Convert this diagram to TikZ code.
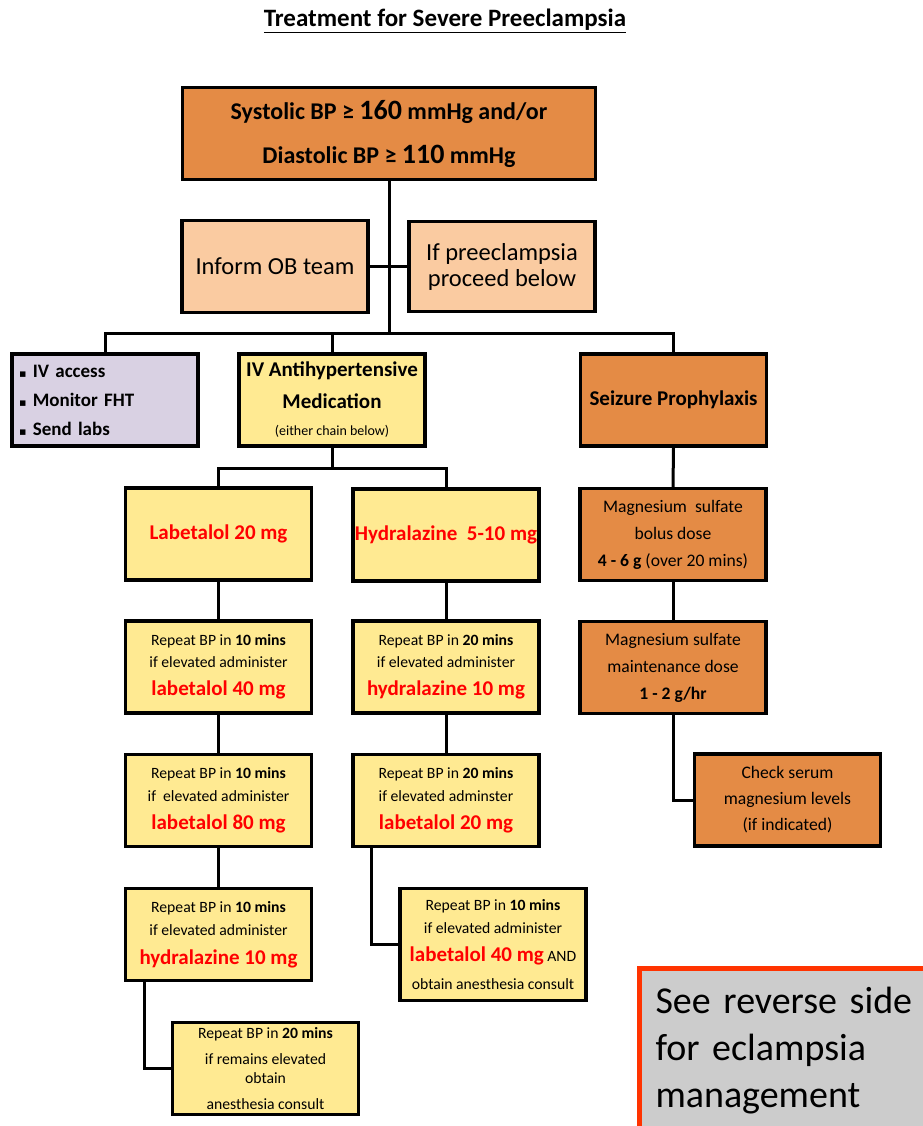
\documentclass[tikz,border=0pt]{standalone}
\usepackage{fontspec}
\setmainfont{Carlito}
\newfontfamily\symfont{DejaVu Sans}
\usepackage{tikz}
\usepackage{xcolor}

\definecolor{orBox}{RGB}{228,139,69}
\definecolor{peachBox}{RGB}{250,203,161}
\definecolor{lavBox}{RGB}{217,209,227}
\definecolor{yelBox}{RGB}{255,234,146}
\definecolor{noteGray}{RGB}{204,204,204}
\definecolor{noteRed}{RGB}{255,51,0}
\definecolor{drugRed}{RGB}{255,0,0}

\newcommand\fsz[2]{\fontsize{#1}{#2}\selectfont}
\newcommand\drug[1]{{\fsz{21}{22}\bfseries\color{drugRed}#1}}
\newcommand\bigdrug[1]{{\fsz{21}{22}\bfseries\color{drugRed}#1}}
\newcommand\blt{{\symfont\fsz{11}{12}▪}}

\tikzset{
  box/.style={draw, line width=3.2pt, inner sep=2pt, align=center, minimum width=186, minimum height=92},
  orbox/.style={box, fill=orBox},
  peachbox/.style={box, fill=peachBox, font=\fsz{24.5}{26}},
  lavbox/.style={box, fill=lavBox},
  yelbox/.style={box, fill=yelBox},
  notebox/.style={draw=noteRed, fill=noteGray, line width=5pt, text width=300, align=left, inner xsep=16, inner ysep=19, font=\fsz{38}{47}},
  link/.style={line width=3pt}
}

\begin{document}
\begin{tikzpicture}[x=1pt,y=-1pt]
\useasboundingbox (0,0) rectangle (922,1126);

\node (title) at (445,21) {\fsz{25}{26}\bfseries\underline{Treatment for Severe Preeclampsia}};

\node[orbox, minimum width=413, minimum height=92, font=\fsz{24}{44}\bfseries] (crit) at (389,133.5)
  {Systolic BP ≥ {\fsz{28}{44}160} mmHg and/or\\ Diastolic BP ≥ {\fsz{28}{44}110} mmHg};
\node[peachbox] (inform) at (275,266.5) {Inform OB team};
\node[peachbox, minimum height=90] (ifpre) at (502,266.5) {If preeclampsia\\ proceed below};

\node[lavbox, text width=172, align=left, font=\fsz{19}{29}\bfseries] (lav) at (105,400)
  {\blt\ IV access\\ \blt\ Monitor FHT\\ \blt\ Send labs};
\node[yelbox, font=\fsz{21}{32}\bfseries] (ivmed) at (332,400)
  {IV Antihypertensive\\ Medication\\[-5pt] {\fsz{14}{13}\mdseries (either chain below)}};
\node[orbox, font=\fsz{21}{20}\bfseries] (seiz) at (673.5,400) {Seizure Prophylaxis};

% labetalol chain
\node[yelbox] (lab1) at (218.5,534) {\drug{Labetalol 20 mg}};
\node[yelbox, font=\fsz{15.7}{22}] (lab2) at (218.5,667)
  {Repeat BP in \textbf{10 mins}\\ if elevated administer\\[6pt] \bigdrug{labetalol 40 mg}};
\node[yelbox, font=\fsz{15.7}{23}] (lab3) at (218.5,800.5)
  {Repeat BP in \textbf{10 mins}\\ if~~elevated administer\\[5pt] \bigdrug{labetalol 80 mg}};
\node[yelbox, font=\fsz{15.7}{23}] (lab4) at (218.5,934.5)
  {Repeat BP in \textbf{10 mins}\\ if elevated administer\\[6pt] \bigdrug{hydralazine 10 mg}};
\node[yelbox, font=\fsz{15.7}{19}] (lab5) at (265.5,1068.5)
  {Repeat BP in \textbf{20 mins}\\[7pt] if remains elevated\\ obtain\\[7pt] anesthesia consult};

% hydralazine chain
\node[yelbox, inner xsep=0pt] (hyd1) at (446,535) {\drug{Hydralazine~~5-10 mg}};
\node[yelbox, font=\fsz{15.7}{22}] (hyd2) at (446,667)
  {Repeat BP in \textbf{20 mins}\\ if elevated administer\\[6pt] \bigdrug{hydralazine 10 mg}};
\node[yelbox, font=\fsz{15.7}{23}] (hyd3) at (446,800.5)
  {Repeat BP in \textbf{20 mins}\\ if elevated adminster\\[5pt] \bigdrug{labetalol 20 mg}};
\node[yelbox, minimum height=112, font=\fsz{15.7}{23}] (hyd4) at (493,944.5)
  {Repeat BP in \textbf{10 mins}\\ if elevated administer\\[5pt] \bigdrug{labetalol 40 mg} AND\\[5pt] obtain anesthesia consult};

% magnesium chain
\node[orbox, font=\fsz{17.6}{27}] (mg1) at (673,534.5)
  {Magnesium~~sulfate\\ bolus dose\\ \textbf{4 - 6 g} (over 20 mins)};
\node[orbox, font=\fsz{17.6}{27}] (mg2) at (673,667.5)
  {Magnesium sulfate\\ maintenance dose\\ \textbf{1 - 2 g/hr}};
\node[orbox, font=\fsz{17.6}{26}] (mgchk) at (787.5,800)
  {Check serum\\ magnesium levels\\ (if indicated)};

\node[notebox, anchor=north west] (note) at (637,966) {See reverse side\\ for eclampsia\\ management};

\coordinate (bus) at (389,333);
\coordinate (fork) at (332,468);
\draw[link] (crit.south) -- (bus);
\draw[link] (inform.east) -- (ifpre.west);
\draw[link] (lav.north) |- (bus) -| (seiz.north);
\draw[link] (ivmed.north) -- (ivmed.north |- bus);
\draw[link] (ivmed.south) -- (fork);
\draw[link] (lab1.north) |- (fork) -| (hyd1.north);
\foreach \u/\v in {lab1/lab2,lab2/lab3,lab3/lab4,hyd1/hyd2,hyd2/hyd3,seiz/mg1,mg1/mg2}
  \draw[link] (\u.south) -- (\v.north);
\draw[link] ([xshift=-75pt]hyd3.south) |- (hyd4.west);
\draw[link] ([xshift=-74.5pt]lab4.south) |- (lab5.west);
\draw[link] (mg2.south) |- (mgchk.west);
\end{tikzpicture}
\end{document}
